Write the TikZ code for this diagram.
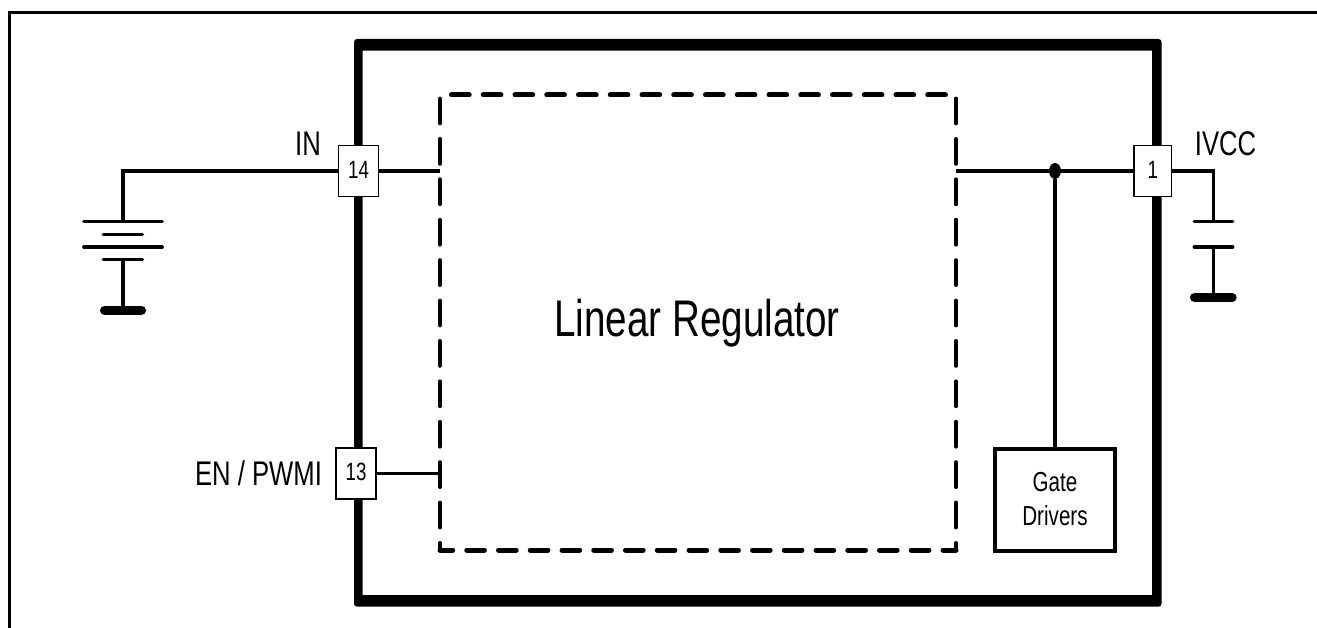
\documentclass[tikz,border=0pt]{standalone}
\usepackage{fontspec}
\setmainfont[FakeStretch=0.75]{Liberation Sans}
\usetikzlibrary{shapes.geometric}
\newcommand{\fsz}[2]{\fontsize{#1}{#2}\selectfont}
\tikzset{
  frameline/.style={line width=3.2pt,black},
  wire/.style={line width=3.3pt,black},
  plate/.style={line width=3.3pt,black,line cap=round},
  gnd/.style={line width=8.8pt,black,line cap=round},
  dashv/.style={line width=3.8pt,line cap=round,dash pattern=on 25pt off 15.4pt},
  dashh/.style={line width=5pt,line cap=round,dash pattern=on 17.7pt off 14.05pt},
  pin/.style={draw=black,fill=white,line width=1.5pt,inner sep=0pt,minimum height=51pt,font=\fsz{25}{25}},
  blockbox/.style={draw=black,fill=white,line width=3.2pt,inner sep=0pt,minimum width=120pt,minimum height=102pt,align=center,font=\fsz{27.5}{34.3}},
  lbl/.style={inner sep=0pt,anchor=base,font=\fsz{34.2}{35}},
  junction/.style={ellipse,fill=black,inner sep=0pt,minimum width=12pt,minimum height=16pt}
}
\begin{document}
\begin{tikzpicture}[x=1pt,y=-1pt]
\useasboundingbox (0,0) rectangle (1317,628);
% sheet frame
\coordinate (fa) at (9.8,628);
\coordinate (fb) at (9.8,12.5);
\coordinate (fc) at (1317,12.5);
\draw[frameline] (fa) -- (fb) -- (fc);
% chip outline
\fill[black,even odd rule]
  [rounded corners=3pt] (354,39) rectangle (1161.5,606.7)
  [sharp corners] (362.7,50.7) rectangle (1152,595);
% dashed regulator block
\draw[dashv] (440,98.5) -- (440,550);
\draw[dashv] (955.8,98.5) -- (955.8,550);
\draw[dashh] (451.5,95) -- (948,95);
\draw[dashh,dash phase=5pt] (440,550) -- (956,550);
\node[inner sep=0pt,anchor=base,font=\fsz{51.5}{52}] (reg) at (697,336.7) {Linear Regulator};
% terminal coordinates
\coordinate (regin) at (440,171);
\coordinate (regen) at (440,473.5);
\coordinate (regout) at (955.8,171);
\coordinate (batcorner) at (123,171);
\coordinate (bat1) at (123,221.7);
\coordinate (bat2l) at (83.8,221.7);
\coordinate (bat2r) at (162.2,221.7);
\coordinate (bat3l) at (103.2,234.3);
\coordinate (bat3r) at (142.5,234.3);
\coordinate (bat4l) at (83.8,247);
\coordinate (bat4r) at (162.2,247);
\coordinate (bat5l) at (103.2,259.3);
\coordinate (bat5r) at (142.5,259.3);
\coordinate (bat5) at (123,259.3);
\coordinate (batg) at (123,310.3);
\coordinate (batgl) at (104.4,310.3);
\coordinate (batgr) at (141.6,310.3);
\coordinate (capcorner) at (1213.3,171);
\coordinate (cap1) at (1213.3,221.7);
\coordinate (cap1l) at (1194.2,221.7);
\coordinate (cap1r) at (1232.8,221.7);
\coordinate (cap2) at (1213.3,247);
\coordinate (cap2l) at (1194.2,247);
\coordinate (cap2r) at (1232.8,247);
\coordinate (capg) at (1213.3,297.5);
\coordinate (capgl) at (1194.4,297.5);
\coordinate (capgr) at (1232.3,297.5);
% pins and blocks
\node[pin,minimum width=40pt] (p14) at (358.5,171) {\raisebox{3pt}{14}};
\node[pin,minimum width=37.6pt] (p1) at (1152.8,171) {\raisebox{3pt}{1}};
\node[pin,minimum width=40pt] (p13) at (356,473.5) {\raisebox{3pt}{13}};
\node[blockbox] (gate) at (1055,500) {\raisebox{1.8pt}{Gate}\\\raisebox{1.8pt}{Drivers}};
\node[junction] (dot) at (1055,171) {};
% connectors
\draw[wire] (p14.west) -- (batcorner) -- (bat1);
\draw[wire] (p14.east) -- (regin);
\draw[wire] (p13.east) -- (regen);
\draw[wire] (regout) -- (dot) -- (p1.west);
\draw[wire] (dot) -- (gate.north);
\draw[wire] (p1.east) -- (capcorner) -- (cap1);
\draw[wire] (cap2) -- (capg);
\draw[wire] (bat5) -- (batg);
\draw[plate] (bat2l) -- (bat2r);
\draw[plate] (bat3l) -- (bat3r);
\draw[plate] (bat4l) -- (bat4r);
\draw[plate] (bat5l) -- (bat5r);
\draw[plate] (cap1l) -- (cap1r);
\draw[plate] (cap2l) -- (cap2r);
\draw[gnd] (batgl) -- (batgr);
\draw[gnd] (capgl) -- (capgr);
% labels
\node[lbl] (lin) at (308,156) {IN};
\node[lbl] (lvcc) at (1225.5,156) {IVCC};
\node[lbl] (len) at (258.5,485) {EN / PWMI};
\end{tikzpicture}
\end{document}
